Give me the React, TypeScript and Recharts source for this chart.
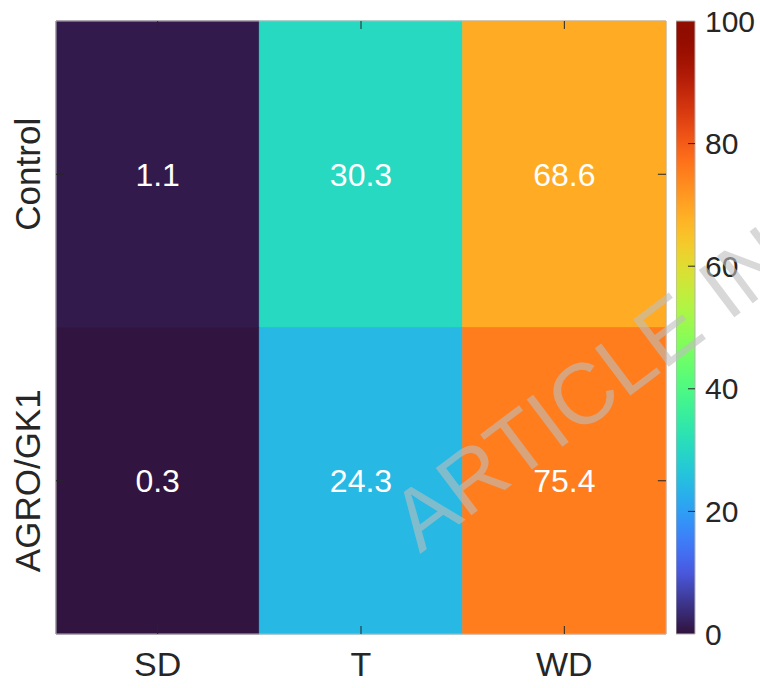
import React from "react";
import { ComposedChart, ReferenceArea, ReferenceLine, XAxis, YAxis } from "recharts";

const treatments = ["SD", "T", "WD"];
const groups = ["Control", "AGRO/GK1"];
const controlValues = [1.1, 30.3, 68.6];
const agroValues = [0.3, 24.3, 75.4];
const colorbarTicks = [0, 20, 40, 60, 80, 100];

const rows = [controlValues, agroValues];

// turbo colormap: polynomial approximation, with the dark end blended to the real start colour
function turboRgb(x: number): number[] {
  const r = 0.13572138 + x * (4.6153926 + x * (-42.66032258 + x * (132.13108234 + x * (-152.94239396 + x * 59.28637943))));
  const g = 0.09140261 + x * (2.19418839 + x * (4.84296658 + x * (-14.18503333 + x * (4.27729857 + x * 2.82956604))));
  const b = 0.1066733 + x * (12.64194608 + x * (-60.58204836 + x * (110.36276771 + x * (-89.90310912 + x * 27.34824973))));
  return [r, g, b].map((v) => Math.max(0, Math.min(1, v)) * 255);
}

function turbo(t: number) {
  const x = Math.max(0, Math.min(1, t));
  let rgb: number[];
  if (x < 0.1) {
    const start = [48, 18, 59];
    const end = turboRgb(0.1);
    const f = x / 0.1;
    rgb = start.map((s, i) => s + (end[i] - s) * f);
  } else {
    rgb = turboRgb(x);
  }
  return `rgb(${rgb.map((v) => Math.round(v)).join(",")})`;
}

const font = "'Liberation Sans', Arial, Helvetica, sans-serif";
const tickColor = "#262626";

const YTick = (props: any) => {
  const { y, payload } = props;
  const label = groups[Math.floor(payload.value)];
  return (
    <text transform={`translate(40, ${y}) rotate(-90)`} textAnchor="middle" fontSize={35} fill="#262626">
      {label}
    </text>
  );
};

const XTick = (props: any) => {
  const { x, payload } = props;
  const label = treatments[Math.floor(payload.value)];
  return (
    <text x={x} y={676} textAnchor="middle" fontSize={34} fill="#262626">
      {label}
    </text>
  );
};

function Heatmap() {
  return (
    <ComposedChart width={760} height={688} margin={{ top: 21, right: 94, bottom: 0, left: 0 }}>
      <XAxis
        type="number"
        dataKey="x"
        domain={[0, 3]}
        ticks={[0.5, 1.5, 2.5]}
        height={54}
        axisLine={false}
        tickLine={false}
        tick={<XTick />}
        allowDataOverflow
      />
      <YAxis
        type="number"
        dataKey="y"
        domain={[0, 2]}
        ticks={[0.5, 1.5]}
        reversed
        width={56}
        axisLine={false}
        tickLine={false}
        tick={<YTick />}
        allowDataOverflow
      />
      {rows.map((vals, ri) =>
        vals.map((v, ci) => (
          <ReferenceArea
            key={`${ri}-${ci}`}
            x1={ci}
            x2={ci + 1}
            y1={ri}
            y2={ri + 1}
            fill={turbo(v / 100)}
            fillOpacity={1}
            stroke={turbo(v / 100)}
            strokeWidth={0.8}
            label={{ value: v.toFixed(1), position: "center", fill: "#ffffff", fontSize: 32 }}
          />
        ))
      )}
      {groups.map((_, ri) => (
        <ReferenceLine
          key={`rl-${ri}`}
          segment={[{ x: 0, y: ri + 0.5 }, { x: 0.04, y: ri + 0.5 }]}
          stroke={tickColor}
        />
      ))}
      {groups.map((_, ri) => (
        <ReferenceLine
          key={`rr-${ri}`}
          segment={[{ x: 2.96, y: ri + 0.5 }, { x: 3, y: ri + 0.5 }]}
          stroke={tickColor}
        />
      ))}
      {treatments.map((_, ci) => (
        <ReferenceLine
          key={`tb-${ci}`}
          segment={[{ x: ci + 0.5, y: 2 }, { x: ci + 0.5, y: 1.974 }]}
          stroke={tickColor}
        />
      ))}
      {treatments.map((_, ci) => (
        <ReferenceLine
          key={`tt-${ci}`}
          segment={[{ x: ci + 0.5, y: 0 }, { x: ci + 0.5, y: 0.026 }]}
          stroke={tickColor}
        />
      ))}
      <ReferenceArea x1={0} x2={3} y1={0} y2={2} fill="none" stroke="#b3b3b3" strokeWidth={1} />
    </ComposedChart>
  );
}

function Colorbar() {
  const stops = Array.from({ length: 41 }, (_, i) => i / 40);
  return (
    <ComposedChart width={84} height={688} margin={{ top: 21, right: 0, bottom: 54, left: 0 }}>
      <defs>
        <linearGradient id="turboGrad" x1="0" x2="0" y1="0" y2="1">
          {stops.map((s) => (
            <stop key={s} offset={`${s * 100}%`} stopColor={turbo(1 - s)} />
          ))}
        </linearGradient>
      </defs>
      <XAxis type="number" dataKey="x" domain={[0, 1]} hide allowDataOverflow />
      <YAxis
        type="number"
        dataKey="y"
        orientation="right"
        domain={[0, 100]}
        ticks={colorbarTicks}
        width={65}
        axisLine={false}
        tickLine={false}
        tickSize={8}
        tickMargin={2}
        tick={{ fontSize: 30, fill: "#262626" }}
        interval={0}
        allowDataOverflow
      />
      <ReferenceArea x1={0} x2={1} y1={0} y2={100} fill="url(#turboGrad)" fillOpacity={1} stroke="#b3b3b3" />
      {colorbarTicks.slice(1, -1).map((t) => (
        <ReferenceLine key={t} segment={[{ x: 0.63, y: t }, { x: 1, y: t }]} stroke={tickColor} />
      ))}
    </ComposedChart>
  );
}

export default function App() {
  return (
    <div
      style={{
        position: "fixed",
        left: 0,
        top: 0,
        width: 760,
        height: 688,
        overflow: "hidden",
        background: "#ffffff",
        fontFamily: font,
      }}
    >
      <div style={{ position: "absolute", left: 0, top: 0 }}>
        <Heatmap />
      </div>
      <div style={{ position: "absolute", left: 676, top: 0 }}>
        <Colorbar />
      </div>
      <svg width={760} height={688} style={{ position: "absolute", left: 0, top: 0, pointerEvents: "none" }}>
        <text
          x={420}
          y={554}
          transform="rotate(-37 420 554)"
          fontSize={86}
          fill="rgba(190,190,190,0.6)"
          fontFamily={font}
        >
          ARTICLE IN
        </text>
      </svg>
    </div>
  );
}
